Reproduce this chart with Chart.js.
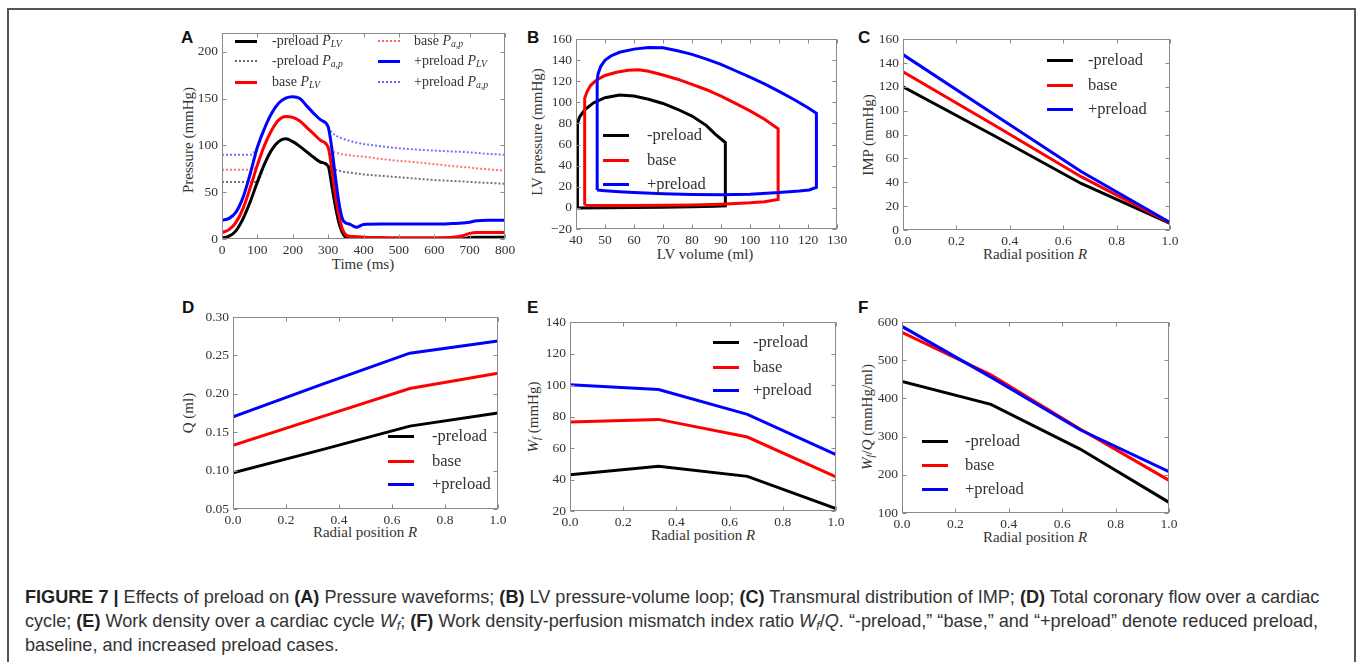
<!DOCTYPE html>
<html><head><meta charset="utf-8">
<script src="https://cdn.jsdelivr.net/npm/chart.js@4/dist/chart.umd.min.js"></script>
<style>
body{margin:0;background:#fff;width:1357px;height:662px;overflow:hidden;position:relative;font-family:"Liberation Serif",serif;}
.frame{position:absolute;left:7px;top:8px;width:1345px;height:700px;border:2px solid #555;}
.plab{position:absolute;font-family:"Liberation Sans",Arial,sans-serif;font-weight:bold;font-size:17px;color:#111;line-height:1}
.ax{position:absolute;font-size:15px;color:#333;white-space:nowrap;transform:translate(-50%,-50%);line-height:1}
.axv{transform:translate(-50%,-50%) rotate(-90deg);}
.lg{position:absolute;white-space:nowrap;color:#333;line-height:1;transform:translateY(-50%)}
.lgline{position:absolute;}
sub{font-size:0.7em;vertical-align:-0.25em;line-height:0}
.caption{position:absolute;left:25px;top:585px;font-family:"Liberation Sans",Arial,sans-serif;font-size:18.1px;line-height:24px;color:#333;white-space:nowrap}
.caption b{color:#222}
</style></head><body>
<div class="frame"></div>
<div class="plab" style="left:181px;top:29px">A</div>
<div class="plab" style="left:527px;top:29px">B</div>
<div class="plab" style="left:858px;top:29px">C</div>
<div class="plab" style="left:182px;top:299px">D</div>
<div class="plab" style="left:527px;top:299px">E</div>
<div class="plab" style="left:858px;top:299px">F</div>

<div class="ax" style="left:363px;top:264px">Time (ms)</div>
<div class="ax axv" style="left:188px;top:140px">Pressure (mmHg)</div>
<div class="ax" style="left:705px;top:254px">LV volume (ml)</div>
<div class="ax axv" style="left:537px;top:132px">LV pressure (mmHg)</div>
<div class="ax" style="left:1035px;top:254px">Radial position <i>R</i></div>
<div class="ax axv" style="left:868px;top:135px">IMP (mmHg)</div>
<div class="ax" style="left:365px;top:532px">Radial position <i>R</i></div>
<div class="ax axv" style="left:188px;top:413px">Q (ml)</div>
<div class="ax" style="left:703px;top:535px">Radial position <i>R</i></div>
<div class="ax axv" style="left:533px;top:417px"><i>W<sub>f</sub></i> (mmHg)</div>
<div class="ax" style="left:1035px;top:537px">Radial position <i>R</i></div>
<div class="ax axv" style="left:867px;top:417px"><i>W<sub>f</sub></i>/<i>Q</i> (mmHg/ml)</div>

<div class="caption"><b>FIGURE 7 |</b> Effects of preload on <b>(A)</b> Pressure waveforms; <b>(B)</b> LV pressure-volume loop; <b>(C)</b> Transmural distribution of IMP; <b>(D)</b> Total coronary flow over a cardiac<br>cycle; <b>(E)</b> Work density over a cardiac cycle <i>W<sub>f</sub></i>; <b>(F)</b> Work density-perfusion mismatch index ratio <i>W<sub>f</sub></i>/<i>Q</i>. “-preload,” “base,” and “+preload” denote reduced preload,<br>baseline, and increased preload cases.</div>

<script>
// ---------- DATA ----------
// Panel A: pressure waveforms
const timeMs = [0,20,40,60,80,100,120,140,160,180,200,220,240,260,280,300,310,320,330,340,350,360,370,380,400,450,500,550,600,650,680,700,720,750,800];
const lvNeg  = [1,3,9,22,40,61,80,95,104,107,104,99,93,87,82,78,58,36,18,7,1.5,0.2,0,0,0,0,0,0,0,0,0.3,1.5,2,2,2];
const paNeg  = [61,61,61,61,61,61,80,95,104,107,104,99,93,87,82,78,75.5,74,73,72,71.5,71,70.5,70,69,67.5,66,64.5,63,62,61.5,61,60.5,60,59];
const lvBase = [7,10,18,33,55,79,100,116,127,131,130,126,119,112,105,98,76,48,26,11,4.5,3,2.7,2.5,2,1.5,1.3,1.3,1.4,1.8,3.5,6,7,7,7];
const paBase = [74,74,74,74,74,79,100,116,127,131,130,126,119,112,105,98,94,92.5,91.5,90.5,90,89.5,89,88.5,88,85.5,83.5,82,80,78,77,76.5,75.5,74.5,73];
const lvPos  = [20,22,29,45,70,98,118,134,145,150.5,152,150,142,134,127,120,98,68,40,22,17,16,14,12.5,15.5,16,16,16,16,16.5,17,18,19.5,20,20];
const paPos  = [90,90,90,90,90,98,118,134,145,150.5,152,150,142,134,127,120,114,111,109,107.5,106,105,104,103,101.5,99,97,95.5,94.5,93.5,93,92.5,92,91,90];
const ticksA_x = [0,100,200,300,400,500,600,700,800];
const ticksA_y = [0,50,100,150,200];

// Panel B: PV loops
const volNeg  = [40.5,50,60,70,80,88,91.5,91.5,88,85,80,75,70,65,60,55,50,46,43,41.2,40.5,40.5];
const presNeg = [0,0.1,0.3,0.6,1.0,1.5,2,62,70,78,87,93.5,99,103,106,107,104.5,99.5,93,86,80,0];
const volBase  = [43,50,60,70,80,90,100,105,109.7,109.7,105,100,95,90,85,80,75,70,65,61.5,58,54,50,47,45,43.8,43,43];
const presBase = [2.5,2.2,2.2,2.4,2.8,3.5,4.8,5.8,8,75,84,92,99,106,112,117,122,126,129.5,131,130.5,128.5,125.5,121,116,110,104,2.5];
const volPos  = [47.3,50,55,60,70,80,90,100,110,117,120.4,122.9,122.9,120,115,110,105,100,95,90,85,80,75,70,65,60,55,52,50,48.5,47.6,47.3,47.3];
const presPos = [17,16.3,15.3,14.5,13.3,12.6,12.5,13,14.5,16,17,19.5,89.6,95,103,110.5,117.5,124,130,136,141,145.5,149,151.8,152,150.5,147.5,144,140,134,127,121,17];
const ticksB_x = [40,50,60,70,80,90,100,110,120,130];
const ticksB_y = [-20,0,20,40,60,80,100,120,140,160];

// Panels C-F: transmural distributions
const radialPos = [0, 0.333, 0.667, 1.0];
const impNeg  = [120, 80, 39, 5.6];
const impBase = [132.6, 89, 44.7, 6];
const impPos  = [147, 98, 49, 6.3];
const qNeg  = [0.097, 0.127, 0.158, 0.175];
const qBase = [0.133, 0.170, 0.207, 0.227];
const qPos  = [0.170, 0.212, 0.253, 0.269];
const wNeg  = [43.1, 48.4, 42, 21.5];
const wBase = [76.5, 78.2, 67, 41.6];
const wPos  = [100.2, 97.2, 81.4, 55.8];
const rNeg  = [444.7, 384.5, 267.5, 127.9];
const rBase = [573, 462, 320, 185.5];
const rPos  = [588.7, 456, 318, 208];
const ticksR = [0,0.2,0.4,0.6,0.8,1.0];
const ticksC_y = [0,20,40,60,80,100,120,140,160];
const ticksD_y = [0.05,0.10,0.15,0.20,0.25,0.30];
const ticksE_y = [20,40,60,80,100,120,140];
const ticksF_y = [100,200,300,400,500,600];

// ---------- RENDERING ----------
const BLACK='#000000', RED='#ff0000', BLUE='#0000ff';
const PAD_L=48, PAD_T=12, PAD_R=22, PAD_B=26;

const framePlugin = {
  id:'frame',
  afterDatasetsDraw(chart){
    const {ctx, chartArea:a, scales} = chart;
    ctx.save();
    ctx.strokeStyle='#8a8a8a'; ctx.lineWidth=1;
    const L=Math.round(a.left)+0.5, T=Math.round(a.top)+0.5, R=Math.round(a.right)-0.5, B=Math.round(a.bottom)-0.5;
    ctx.strokeRect(L,T,R-L,B-T);
    ctx.beginPath();
    scales.x.ticks.forEach(t=>{const p=Math.round(scales.x.getPixelForValue(t.value))+0.5; ctx.moveTo(p,B); ctx.lineTo(p,B-4); ctx.moveTo(p,T); ctx.lineTo(p,T+4);});
    scales.y.ticks.forEach(t=>{const p=Math.round(scales.y.getPixelForValue(t.value))+0.5; ctx.moveTo(L,p); ctx.lineTo(L+4,p); ctx.moveTo(R,p); ctx.lineTo(R-4,p);});
    ctx.stroke();
    ctx.restore();
  }
};

function fmtInt(v){ return v<0 ? '\u2212'+Math.abs(v) : String(v); }
function fmt1(v){ return v.toFixed(1); }
function fmt2(v){ return v.toFixed(2); }

function scaleCfg(s, axis){
  return {
    type:'linear', min:s.min, max:s.max,
    grid:{display:false, drawTicks:false}, border:{display:false},
    afterBuildTicks: sc => { sc.ticks = s.ticks.map(v=>({value:v})); },
    afterFit: sc => { if(axis==='x') sc.height=PAD_B; else sc.width=PAD_L; },
    ticks:{font:{family:'Liberation Serif', size:13.5}, color:'#333', padding: axis==='x'?3:4,
           maxRotation:0, autoSkip:false, callback: v => s.fmt(v)}
  };
}

function series(xs, ys, color, opts){
  return Object.assign({data: xs.map((x,i)=>({x, y: ys[i]})), borderColor: color, borderWidth: 3,
    showLine: true, pointRadius: 0, fill: false, tension: 0}, opts||{});
}

function makeChart(box, xs, ys, datasets){
  const c=document.createElement('canvas');
  const w=box.R-box.L+PAD_L+PAD_R, h=box.B-box.T+PAD_T+PAD_B;
  c.width=w; c.height=h;
  c.style.cssText=`position:absolute;left:${box.L-PAD_L}px;top:${box.T-PAD_T}px;width:${w}px;height:${h}px`;
  document.body.appendChild(c);
  datasets.forEach((d,i)=>{ d.order = 100 - i; });
  new Chart(c, {type:'scatter', data:{datasets},
    options:{responsive:false, animation:false, devicePixelRatio:1,
      layout:{padding:{top:PAD_T, right:PAD_R, left:0, bottom:0}},
      plugins:{legend:{display:false}, tooltip:{enabled:false}},
      scales:{x:scaleCfg(xs,'x'), y:scaleCfg(ys,'y')}},
    plugins:[framePlugin]});
}

function legendItem(lineX, textX, y, color, dotted, html, fs, len){
  const l=document.createElement('div'); l.className='lgline';
  if(dotted){
    l.style.cssText=`left:${lineX}px;top:${y-1}px;width:${len}px;height:2px;background:repeating-linear-gradient(90deg,${color} 0 2px,transparent 2px 4px);`;
  } else {
    l.style.cssText=`left:${lineX}px;top:${y-1.5}px;width:${len}px;height:3px;background:${color};`;
  }
  document.body.appendChild(l);
  const t=document.createElement('div'); t.className='lg';
  t.style.cssText=`left:${textX}px;top:${y}px;font-size:${fs}px;`;
  t.innerHTML=html; document.body.appendChild(t);
}

const mono = {cubicInterpolationMode:'monotone'};
const dot = c => ({borderWidth:2, borderDash:[2,2], cubicInterpolationMode:'monotone', borderColor:c});

// Panel A
makeChart({L:222,R:505,T:33,B:239},
  {min:0,max:800,ticks:ticksA_x,fmt:fmtInt},
  {min:0,max:220,ticks:ticksA_y,fmt:fmtInt},
  [series(timeMs, lvNeg, BLACK, mono),
   series(timeMs, paNeg, BLACK, dot('rgba(0,0,0,0.55)')),
   series(timeMs, lvBase, RED, mono),
   series(timeMs, paBase, RED, dot('rgba(255,0,0,0.55)')),
   series(timeMs, lvPos, BLUE, mono),
   series(timeMs, paPos, BLUE, dot('rgba(0,0,255,0.55)'))]);
// Panel B
makeChart({L:576,R:837,T:39,B:229},
  {min:40,max:130,ticks:ticksB_x,fmt:fmtInt},
  {min:-20,max:160,ticks:ticksB_y,fmt:fmtInt},
  [series(volNeg, presNeg, BLACK), series(volBase, presBase, RED), series(volPos, presPos, BLUE)]);
// Panel C
makeChart({L:903,R:1170,T:39,B:230},
  {min:0,max:1,ticks:ticksR,fmt:fmt1},
  {min:0,max:160,ticks:ticksC_y,fmt:fmtInt},
  [series(radialPos, impNeg, BLACK), series(radialPos, impBase, RED), series(radialPos, impPos, BLUE)]);
// Panel D
makeChart({L:233,R:498,T:317,B:509},
  {min:0,max:1,ticks:ticksR,fmt:fmt1},
  {min:0.05,max:0.30,ticks:ticksD_y,fmt:fmt2},
  [series(radialPos, qNeg, BLACK), series(radialPos, qBase, RED), series(radialPos, qPos, BLUE)]);
// Panel E
makeChart({L:570,R:836,T:322,B:511},
  {min:0,max:1,ticks:ticksR,fmt:fmt1},
  {min:20,max:140,ticks:ticksE_y,fmt:fmtInt},
  [series(radialPos, wNeg, BLACK), series(radialPos, wBase, RED), series(radialPos, wPos, BLUE)]);
// Panel F
makeChart({L:902,R:1169,T:322,B:513},
  {min:0,max:1,ticks:ticksR,fmt:fmt1},
  {min:100,max:600,ticks:ticksF_y,fmt:fmtInt},
  [series(radialPos, rNeg, BLACK), series(radialPos, rBase, RED), series(radialPos, rPos, BLUE)]);

// Legends
const PLV = '<i>P<sub>LV</sub></i>', PAP = '<i>P<sub>a,p</sub></i>';
legendItem(235,272,41,BLACK,false,'-preload '+PLV,14,22);
legendItem(235,272,61,'rgba(0,0,0,0.6)',true,'-preload '+PAP,14,22);
legendItem(235,272,82,RED,false,'base '+PLV,14,22);
legendItem(378,414,41,'rgba(255,0,0,0.6)',true,'base '+PAP,14,22);
legendItem(378,414,61,BLUE,false,'+preload '+PLV,14,22);
legendItem(378,414,82,'rgba(0,0,255,0.6)',true,'+preload '+PAP,14,22);
const std = [['-preload',BLACK],['base',RED],['+preload',BLUE]];
function stdLegend(lx, tx, ys){ std.forEach((s,i)=>legendItem(lx,tx,ys[i],s[1],false,s[0],16.5,26)); }
stdLegend(603,647,[135,160,184]);
stdLegend(1047,1088,[60,85,109]);
stdLegend(388,432,[436,461,484]);
stdLegend(713,753,[342,367,390]);
stdLegend(922,965,[441,465,489]);
</script>
</body></html>
